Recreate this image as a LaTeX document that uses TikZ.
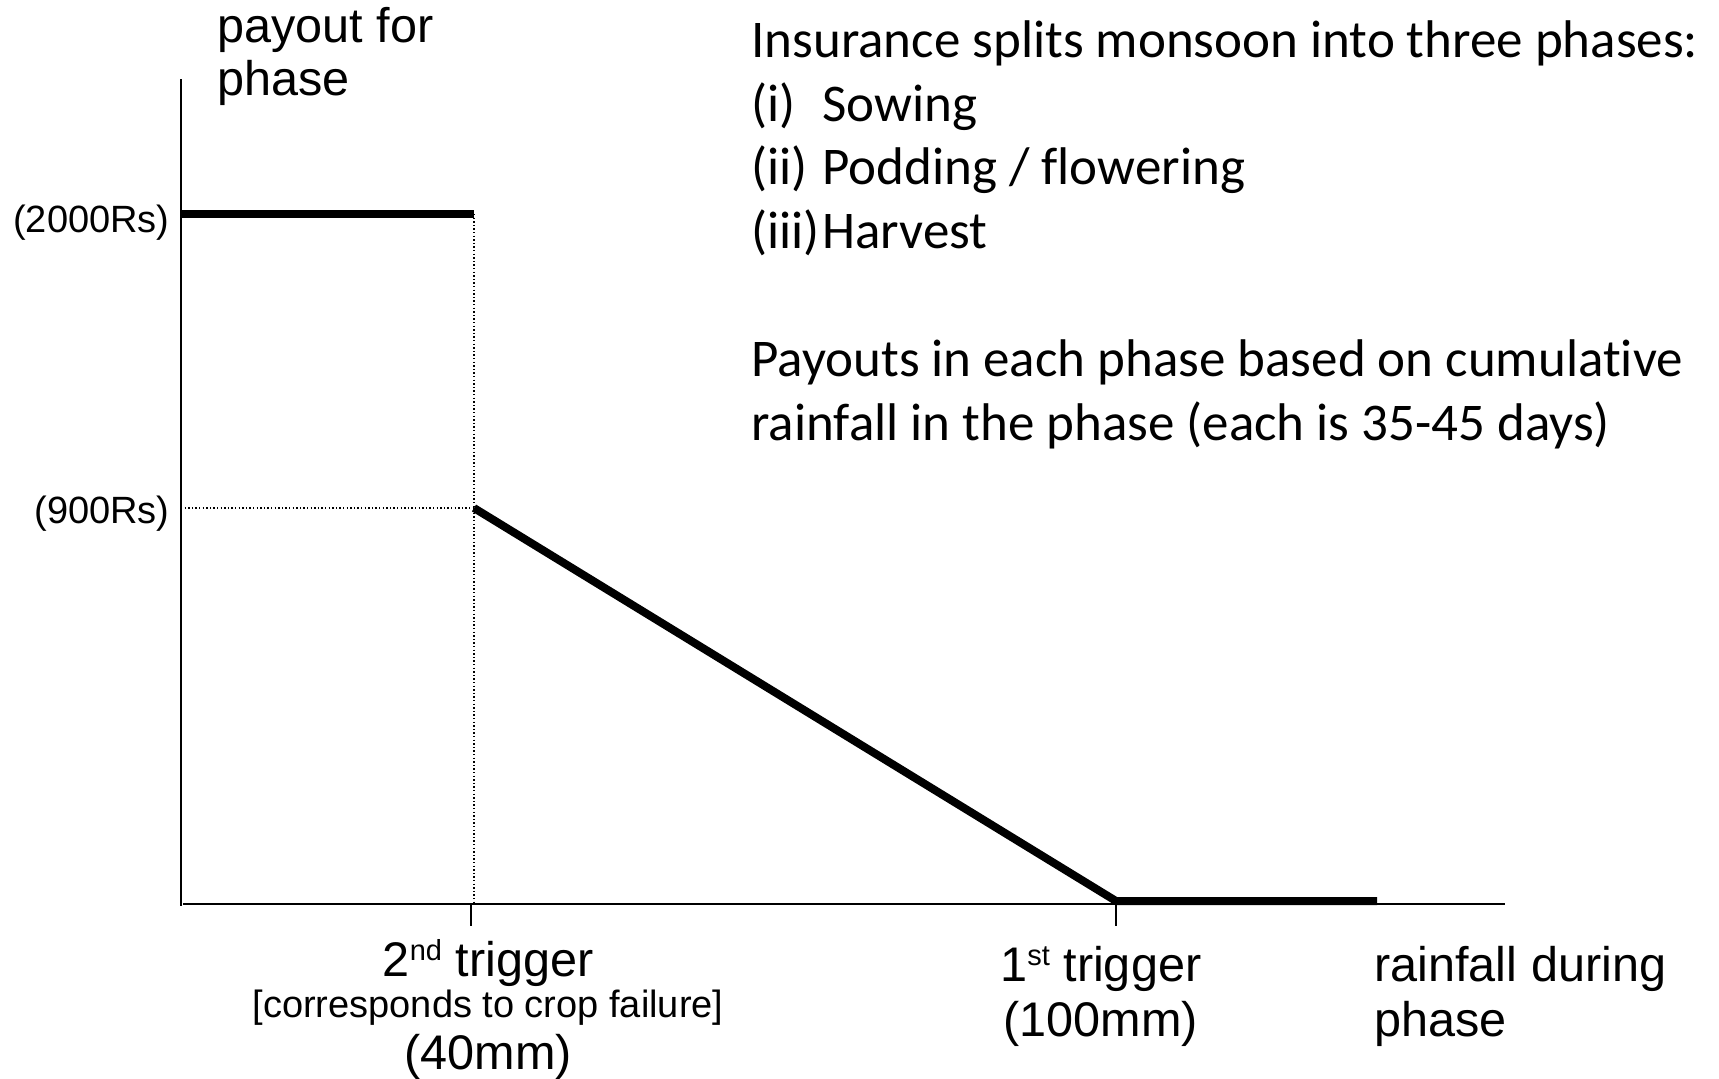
\documentclass[tikz,border=0pt]{standalone}
\usepackage{fontspec}
\setmainfont{Liberation Sans}
\newfontfamily\calibrifont[Ligatures=NoCommon]{Carlito}
\newcommand\mysupr[1]{\raisebox{0.62ex}{\fontsize{14.5}{15}\selectfont #1}}
\begin{document}
\begin{tikzpicture}[x=0.5pt,y=-0.5pt,
  axisline/.style={line width=1pt,black},
  payline/.style={line width=4pt,black},
  guide/.style={line width=0.7pt,dash pattern=on 0.7pt off 1.1pt},
  tickmark/.style={line width=1pt},
  bigtxt/.style={font=\fontsize{24.3}{29}\selectfont,inner sep=0pt},
  smalltxt/.style={font=\fontsize{19}{23}\selectfont,inner sep=0pt},
  notetxt/.style={font=\calibrifont\fontsize{26.5}{32}\selectfont,inner sep=0pt,anchor=base west}]
\path[use as bounding box] (0,0) rectangle (1719,1078);
% coordinates
\coordinate (ytop) at (181,79);
\coordinate (ybot) at (181,906);
\coordinate (xleft) at (183,904);
\coordinate (xright) at (1505,904);
\coordinate (a2000) at (181,214);
\coordinate (b2000) at (474,214);
\coordinate (a900) at (181,508);
\coordinate (b900) at (474,508);
\coordinate (c2) at (474,904);
\coordinate (c1) at (1116,901);
\coordinate (cend) at (1377,901);
\coordinate (tk2a) at (471,904);
\coordinate (tk2b) at (471,926);
\coordinate (tk1a) at (1116,904);
\coordinate (tk1b) at (1116,926);
% axes
\draw[axisline] (ytop) -- (ybot);
\draw[axisline] (xleft) -- (xright);
\draw[tickmark] (tk2a) -- (tk2b);
\draw[tickmark] (tk1a) -- (tk1b);
% guides
\draw[guide] (b2000) -- (c2);
\draw[guide] (a900) -- (b900);
% payout
\draw[payline] (a2000) -- (b2000);
\draw[payline] (b900) -- (c1) -- (cend);
% labels
\node[bigtxt,anchor=base west] (yl1) at (217,42) {payout for};
\node[bigtxt,anchor=base west] (yl2) at (217,95) {phase};
\node[smalltxt,anchor=base east] (v2000) at (170,232) {(2000Rs)};
\node[smalltxt,anchor=base east] (v900) at (170,523) {(900Rs)};
\node[bigtxt,anchor=base] (t2a) at (488,976) {2\mysupr{nd} trigger};
\node[smalltxt,anchor=base] (t2b) at (488,1017) {[corresponds to crop failure]};
\node[bigtxt,anchor=base] (t2c) at (488,1069) {(40mm)};
\node[bigtxt,anchor=base west] (t1a) at (1000,981) {1\mysupr{st} trigger};
\node[bigtxt,anchor=base west] (t1b) at (1003,1036) {(100mm)};
\node[bigtxt,anchor=base west] (xl1) at (1374,981) {rainfall during};
\node[bigtxt,anchor=base west] (xl2) at (1374,1036) {phase};
% notes
\node[notetxt] (n1) at (751,57) {Insurance splits monsoon into three phases:};
\node[notetxt] (n2a) at (751,121) {(i)};
\node[notetxt] (n2b) at (822,121) {Sowing};
\node[notetxt] (n3a) at (751,184) {(ii)};
\node[notetxt] (n3b) at (822,184) {Podding / flowering};
\node[notetxt] (n4a) at (751,248) {(iii)};
\node[notetxt] (n4b) at (822,248) {Harvest};
\node[notetxt] (n5) at (751,376) {Payouts in each phase based on cumulative};
\node[notetxt] (n6) at (751,440) {rainfall in the phase (each is 35-45 days)};
\end{tikzpicture}
\end{document}
